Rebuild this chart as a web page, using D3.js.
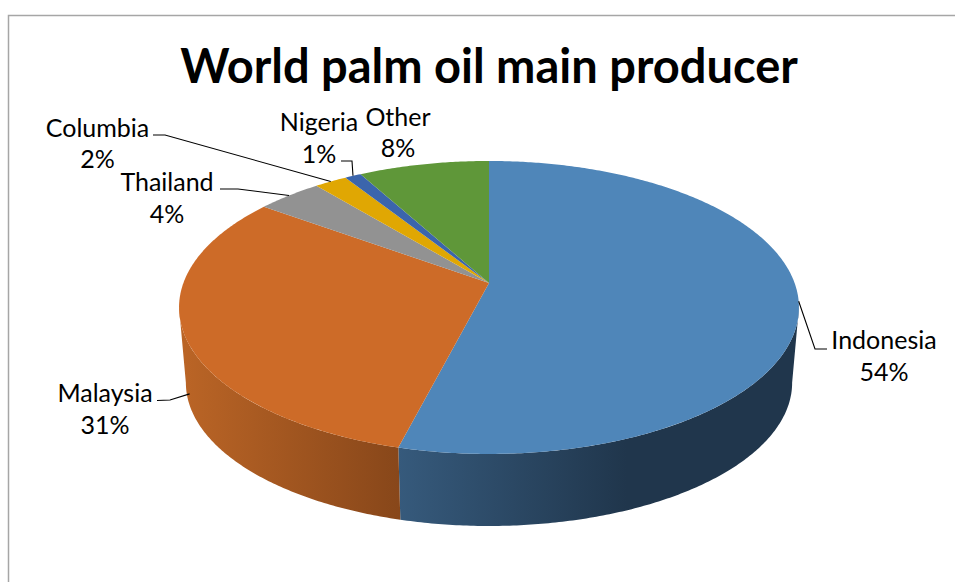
<!DOCTYPE html>
<html>
<head>
<meta charset="utf-8">
<title>World palm oil main producer</title>
<script src="https://cdn.jsdelivr.net/npm/d3@7/dist/d3.min.js"></script>
<style>
  html, body { margin: 0; padding: 0; background: #fff; overflow: hidden; }
  text { font-family: Lato, "Open Sans", sans-serif; fill: #000; }
</style>
</head>
<body>
<svg id="chart" width="955" height="582"></svg>
<script>
// Share of world palm oil production, clockwise from twelve o'clock.
const chartTitle = "World palm oil main producer";
const producers = ["Indonesia", "Malaysia", "Thailand", "Columbia", "Nigeria", "Other"];
const shares = [54, 31, 4, 2, 1, 8];
const topColors = ["#4f86b9", "#cd6b28", "#929292", "#e0a703", "#3b65ac", "#5f9739"];

// Label placement: anchor centre, name baseline, value baseline, leader elbow points.
const labelLayout = {
  Indonesia: { x: 884, nameY: 349, valueY: 381, leader: [[827, 349], [815, 349]], wall: 0 },
  Malaysia:  { x: 105, nameY: 402, valueY: 434, leader: [[157, 400.5], [170, 400]], wall: 0.8 },
  Thailand:  { x: 167, nameY: 191, valueY: 223, leader: [[220, 189], [238, 189]], wall: 0 },
  Columbia:  { x: 97.5, nameY: 137, valueY: 168, leader: [[153, 135], [165, 135]], wall: 0 },
  Nigeria:   { x: 319, nameY: 131, valueY: 163, leader: [[341, 161], [352, 161]], wall: 0 },
  Other:     { x: 398, nameY: 126, valueY: 157, leader: null, wall: 0 }
};

const svg = d3.select("#chart");

// Outer chart frame, open at the right and bottom edges of the page.
svg.append("path")
  .attr("d", "M8.5,582V15.5H955")
  .attr("fill", "none").attr("stroke", "#a6a6a6").attr("stroke-width", 1.5);

// The disc is tilted away from the viewer, so a perspective mapping takes the
// unit circle to the visible ellipse with the hub above the ellipse centre.
const hub = { x: 489, y: 283 };
const tilt = 0.167;
const spreadX = 305.6, spreadY = 142.4;
const bottomScale = 0.978, bottomDrop = 75.8;

function rimTop(theta) {
  const u = Math.sin(theta), v = -Math.cos(theta), d = 1 - tilt * v;
  return [hub.x + spreadX * u / d, hub.y + spreadY * v / d];
}
function rimBottom(theta) {
  const p = rimTop(theta);
  return [hub.x + bottomScale * (p[0] - hub.x), hub.y + bottomDrop + bottomScale * (p[1] - hub.y)];
}
function sample(a0, a1, f) {
  const n = Math.max(2, Math.ceil(Math.abs(a1 - a0) / 0.01));
  return d3.range(n + 1).map(i => f(a0 + (a1 - a0) * i / n));
}
const outline = d3.line();

const arcs = d3.pie().sort(null).value(d => d)(shares);

// Silhouette limits of the disc: the points of widest horizontal extent.
const rightLimit = Math.acos(-tilt);
const leftLimit = 2 * Math.PI - rightLimit;

const defs = svg.append("defs");
function wallGradient(id, x1, x2, stops) {
  const g = defs.append("linearGradient").attr("id", id)
    .attr("gradientUnits", "userSpaceOnUse")
    .attr("x1", x1).attr("x2", x2).attr("y1", 0).attr("y2", 0);
  stops.forEach(([o, c]) => g.append("stop").attr("offset", o).attr("stop-color", c));
}

// Front walls: only the two largest slices are visible from this viewpoint.
const splitAngle = arcs[0].endAngle;
const splitX = rimTop(splitAngle)[0];
wallGradient("wall-indonesia", splitX, 799, [[0, "#365a7c"], [0.57, "#20364c"], [1, "#20364c"]]);
wallGradient("wall-malaysia", 180, splitX, [[0, "#bb6526"], [1, "#88471a"]]);

const walls = [
  { from: rightLimit, to: splitAngle, fill: "url(#wall-indonesia)" },
  { from: splitAngle, to: leftLimit, fill: "url(#wall-malaysia)" }
];
svg.append("g").selectAll("path").data(walls).join("path")
  .attr("d", w => outline(sample(w.from, w.to, rimTop)
    .concat(sample(w.to, w.from, rimBottom))) + "Z")
  .attr("fill", d => d.fill);

// Top surface slices.
svg.append("g").selectAll("path").data(arcs).join("path")
  .attr("d", a => outline([[hub.x, hub.y]].concat(sample(a.startAngle, a.endAngle, rimTop))) + "Z")
  .attr("fill", (a, i) => topColors[i]);

// Leader lines run from each label to the middle of its slice on the rim.
const leaders = svg.append("g").attr("fill", "none").attr("stroke", "#000").attr("stroke-width", 1.1);
arcs.forEach((a, i) => {
  const layout = labelLayout[producers[i]];
  if (!layout.leader) return;
  const mid = (a.startAngle + a.endAngle) / 2;
  const t = rimTop(mid), b = rimBottom(mid);
  const end = [t[0] + (b[0] - t[0]) * layout.wall, t[1] + (b[1] - t[1]) * layout.wall];
  leaders.append("path").attr("d", outline(layout.leader.concat([end])));
});

// Category and percentage labels.
const labels = svg.append("g").attr("text-anchor", "middle").attr("font-size", 25);
producers.forEach((name, i) => {
  const layout = labelLayout[name];
  labels.append("text").attr("x", layout.x).attr("y", layout.nameY).text(name);
  labels.append("text").attr("x", layout.x).attr("y", layout.valueY).text(shares[i] + "%");
});

svg.append("text")
  .attr("x", 489).attr("y", 83)
  .attr("text-anchor", "middle")
  .attr("font-size", 47).attr("font-weight", 700)
  .text(chartTitle);
</script>
</body>
</html>
